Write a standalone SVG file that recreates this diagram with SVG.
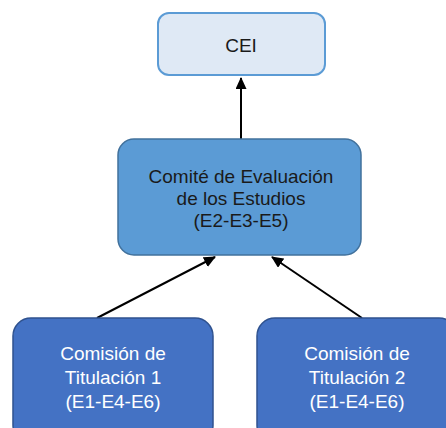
<svg xmlns="http://www.w3.org/2000/svg" width="446" height="428" viewBox="0 0 446 428">
<defs>
<style>
text{font-family:"Liberation Sans",Arial,sans-serif;font-size:19px;text-anchor:middle}
.dark{fill:#1a1a1a}
.light{fill:#ffffff}
.conn{stroke:#000;stroke-width:2;fill:none}
</style>
<marker id="ah" markerWidth="12" markerHeight="12" refX="11" refY="5.5" orient="auto" markerUnits="userSpaceOnUse">
<path d="M0,0 L12,5.5 L0,11 Z" fill="#000"/>
</marker>
</defs>
<rect width="446" height="428" fill="#fff"/>
<g id="connectors">
<line class="conn" x1="241" y1="139" x2="241" y2="78" marker-end="url(#ah)"/>
<line class="conn" x1="97" y1="318" x2="215" y2="257" marker-end="url(#ah)"/>
<line class="conn" x1="362" y1="318" x2="272" y2="257" marker-end="url(#ah)"/>
</g>
<g id="cei">
<rect x="158" y="13" width="167" height="62" rx="11" fill="#dfe9f5" stroke="#5b9bd5" stroke-width="2"/>
<text class="dark" x="241" y="52">CEI</text>
</g>
<g id="comite">
<rect x="118" y="139" width="243" height="116" rx="16" fill="#5b9bd5" stroke="#41719c" stroke-width="1.5"/>
<text class="dark" x="241" y="183">Comité de Evaluación</text>
<text class="dark" x="241" y="205">de los Estudios</text>
<text class="dark" x="241" y="227">(E2-E3-E5)</text>
</g>
<g id="comision1">
<rect x="13" y="318" width="200" height="125" rx="18" fill="#4472c4" stroke="#2f528f" stroke-width="1.5"/>
<text class="light" x="113" y="360">Comisión de</text>
<text class="light" x="113" y="384">Titulación 1</text>
<text class="light" x="113" y="408">(E1-E4-E6)</text>
</g>
<g id="comision2">
<rect x="257" y="318" width="200" height="125" rx="18" fill="#4472c4" stroke="#2f528f" stroke-width="1.5"/>
<text class="light" x="357" y="360">Comisión de</text>
<text class="light" x="357" y="384">Titulación 2</text>
<text class="light" x="357" y="408">(E1-E4-E6)</text>
</g>
</svg>
